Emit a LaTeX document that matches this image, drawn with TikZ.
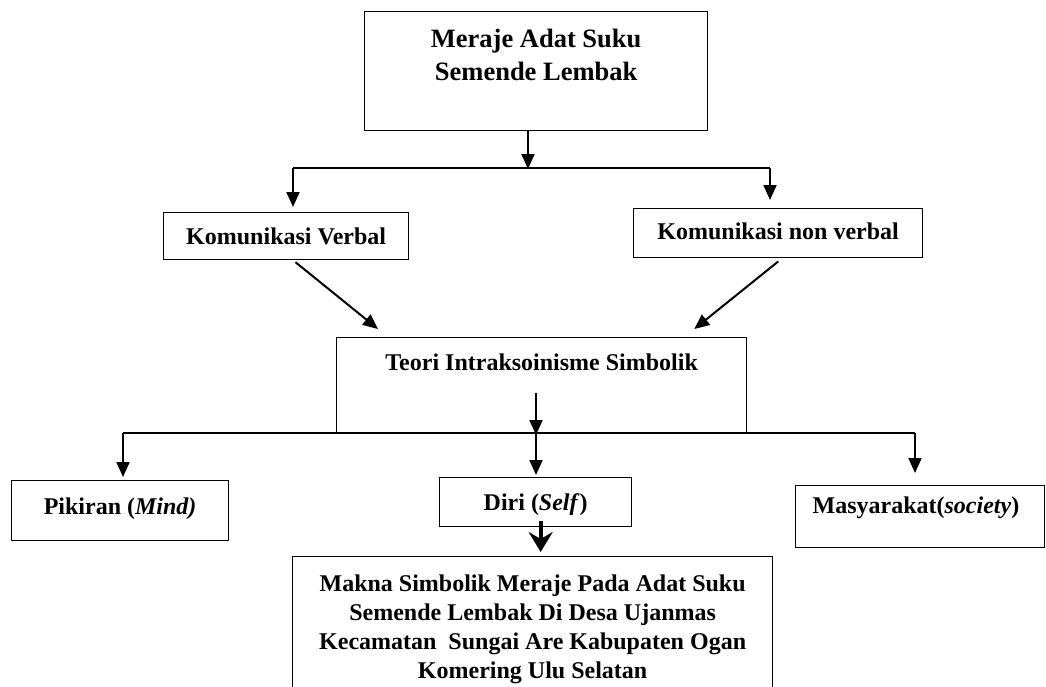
\documentclass[tikz,border=0pt]{standalone}
\usepackage{fontspec}
\setmainfont{Liberation Serif}
\usetikzlibrary{arrows.meta}

\begin{document}
\begin{tikzpicture}[x=1pt, y=-1pt,
  box/.style={draw, line width=1.3pt, inner sep=0pt, anchor=north west, align=center,
    font=\bfseries\fontsize{24}{28}\selectfont},
  ar/.style={-{Triangle[length=15pt,width=13pt]}, line width=2pt},
  bigar/.style={-{Stealth[length=20pt,width=24pt,inset=7pt]}, line width=4pt},
  bus/.style={line width=1.6pt}]
\path[use as bounding box, clip] (0,0) rectangle (1046,686);
\node[box, minimum width=343pt, text height=69pt, text depth=50pt,
      font=\bfseries\fontsize{26.5}{33}\selectfont] (adat) at (364,11) {Meraje Adat Suku\\Semende Lembak};
\node[box, minimum width=245pt, text height=32pt, text depth=15pt] (verbal) at (163,212) {Komunikasi Verbal};
\node[box, minimum width=289pt, text height=31pt, text depth=18pt] (nonverbal) at (633,208) {Komunikasi non verbal};
\node[box, minimum width=410pt, text height=33pt, text depth=63pt] (teori) at (336,337) {Teori Intraksoinisme Simbolik};
\node[box, minimum width=217pt, text height=34pt, text depth=26pt] (mind) at (11,480) {Pikiran (\textit{Mind)}};
\node[box, minimum width=192pt, text height=33pt, text depth=16pt] (self) at (439,477) {Diri (\textit{Self})};
\node[box, text width=215pt, inner xsep=17pt, align=left, text height=28pt, text depth=34pt] (society) at (795,485) {Masyarakat(\textit{society})};
\node[box, minimum width=480pt, text height=122pt, text depth=100pt,
      font=\bfseries\fontsize{24}{29}\selectfont] (makna) at (292,556)
  {Makna Simbolik Meraje Pada Adat Suku\\Semende Lembak Di Desa Ujanmas\\Kecamatan\ \ Sungai Are Kabupaten Ogan\\Komering Ulu Selatan};
\coordinate (top) at (528,168);
\coordinate (left1) at (293,168);
\coordinate (right1) at (770,168);
\draw[ar, shorten >=-1pt] (adat.south -| top) -- (top);
\draw[bus] (left1) -- (right1);
\draw[ar, shorten >=5pt] (left1) -- (left1 |- verbal.north);
\draw[ar, shorten >=8pt] (right1) -- (right1 |- nonverbal.north);
\draw[ar, shorten <=3pt] ([xshift=7pt]verbal.south) -- ([xshift=42pt,yshift=8pt]teori.north west);
\draw[ar, shorten <=5pt] ([xshift=4pt]nonverbal.south) -- ([xshift=-53pt,yshift=8pt]teori.north east);
\coordinate (inside) at (536,393);
\coordinate (mid2) at (536,433);
\coordinate (left2) at (123,433);
\coordinate (right2) at (915,433);
\draw[bus] (left2) -- (right2);
\draw[ar, shorten >=-2pt] (inside) -- (mid2);
\draw[ar, shorten >=2pt] (mid2) -- (mid2 |- self.north);
\draw[ar, shorten >=3pt] (left2) -- (left2 |- mind.north);
\draw[ar, shorten >=12pt] (right2) -- (right2 |- society.north);
\draw[bigar, shorten >=4pt] ([xshift=5pt,yshift=6pt]self.south) -- ([xshift=5pt]self.south |- makna.north);
\end{tikzpicture}
\end{document}
